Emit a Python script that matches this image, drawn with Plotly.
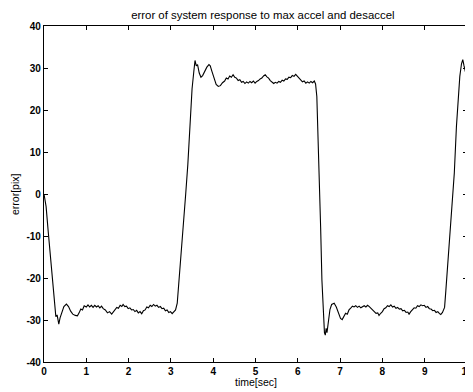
import plotly.graph_objects as go

time_sec = [
    0.00, 0.05, 0.10, 0.15, 0.20, 0.25, 0.28, 0.31, 0.35, 0.38, 0.42, 0.47, 0.53, 0.58, 0.63, 0.68,
    0.74, 0.79, 0.83, 0.87, 0.91, 0.95, 1.00, 1.04, 1.08, 1.12, 1.16, 1.20, 1.24, 1.28, 1.32, 1.36,
    1.40, 1.45, 1.50, 1.55, 1.60, 1.64, 1.68, 1.72, 1.76, 1.80, 1.84, 1.87, 1.91, 1.95, 1.99, 2.03,
    2.07, 2.11, 2.15, 2.19, 2.23, 2.27, 2.31, 2.35, 2.39, 2.43, 2.47, 2.51, 2.55, 2.59, 2.63, 2.67,
    2.71, 2.75, 2.79, 2.83, 2.87, 2.91, 2.95, 2.99, 3.03, 3.07, 3.11, 3.15, 3.20, 3.25, 3.30, 3.35,
    3.40, 3.45, 3.50, 3.54, 3.57, 3.60, 3.63, 3.67, 3.71, 3.75, 3.80, 3.85, 3.90, 3.93, 3.97, 4.02,
    4.07, 4.12, 4.17, 4.22, 4.27, 4.31, 4.35, 4.39, 4.43, 4.47, 4.51, 4.55, 4.59, 4.63, 4.67, 4.71,
    4.75, 4.79, 4.83, 4.87, 4.91, 4.95, 4.99, 5.03, 5.07, 5.11, 5.15, 5.19, 5.23, 5.27, 5.31, 5.35,
    5.39, 5.43, 5.47, 5.51, 5.55, 5.59, 5.63, 5.67, 5.71, 5.75, 5.79, 5.83, 5.87, 5.91, 5.95, 5.99,
    6.03, 6.07, 6.11, 6.15, 6.19, 6.23, 6.27, 6.31, 6.35, 6.39, 6.42, 6.45, 6.48, 6.51, 6.54, 6.57,
    6.60, 6.63, 6.65, 6.67, 6.69, 6.72, 6.76, 6.80, 6.86, 6.91, 6.96, 7.01, 7.05, 7.09, 7.13, 7.17,
    7.21, 7.25, 7.29, 7.33, 7.37, 7.41, 7.45, 7.49, 7.53, 7.57, 7.61, 7.65, 7.69, 7.73, 7.77, 7.81,
    7.85, 7.89, 7.92, 7.96, 8.00, 8.04, 8.08, 8.12, 8.16, 8.20, 8.24, 8.28, 8.32, 8.36, 8.40, 8.44,
    8.48, 8.52, 8.56, 8.60, 8.63, 8.67, 8.71, 8.75, 8.79, 8.83, 8.87, 8.91, 8.95, 8.99, 9.03, 9.07,
    9.11, 9.15, 9.19, 9.23, 9.27, 9.31, 9.35, 9.38, 9.42, 9.47, 9.50, 9.55, 9.60, 9.65, 9.70, 9.75,
    9.79, 9.83, 9.87, 9.90, 9.93, 9.96, 10.00,
]
error_pix = [
    0.0, -3.0, -9.0, -15.0, -21.0, -27.0, -29.2, -28.8, -31.0, -29.5, -28.0, -26.8, -26.2, -26.8, -27.9, -28.6,
    -28.9, -29.0, -28.3, -27.4, -27.6, -26.6, -26.9, -26.4, -26.9, -26.5, -27.0, -26.5, -26.9, -26.6, -27.1, -26.7,
    -27.3, -27.6, -28.3, -28.0, -28.6, -28.0, -27.6, -27.0, -27.2, -26.5, -26.8, -26.3, -26.8, -26.7, -27.3, -27.1,
    -27.6, -27.5, -28.0, -27.7, -28.3, -28.0, -28.5, -27.8, -27.6, -26.9, -27.1, -26.5, -26.8, -26.3, -26.7, -26.5,
    -27.0, -26.8, -27.3, -27.2, -27.8, -27.6, -28.2, -28.0, -28.5, -28.0, -27.6, -26.0, -20.0, -14.0, -7.0, 0.0,
    7.0, 17.0, 25.0, 29.0, 31.8, 30.5, 30.8, 28.8, 27.8, 28.2, 29.3, 30.2, 30.8, 30.5, 29.2, 27.5,
    26.1, 25.6, 25.8, 26.5, 26.9, 27.6, 27.4, 28.1, 27.8, 28.4, 27.8, 27.6, 27.0, 27.2, 26.6, 26.8,
    26.3, 26.7, 26.4, 26.8, 26.5, 26.9, 26.4, 26.8, 27.0, 27.4, 27.6, 28.1, 28.4, 27.9, 27.6, 27.0,
    26.7, 26.3, 26.6, 26.4, 26.8, 26.6, 27.1, 26.9, 27.4, 27.3, 27.8, 27.7, 28.2, 28.0, 28.5, 28.0,
    27.6, 27.1, 26.7, 26.9, 26.4, 26.7, 26.4, 26.8, 26.5, 26.9, 26.2, 23.2, 14.0, 4.0, -8.0, -20.5,
    -28.0, -33.0, -33.6, -32.0, -33.0, -30.0, -27.5, -26.3, -26.0, -26.9, -28.5, -29.6, -29.9, -29.2, -28.4, -28.6,
    -27.6, -27.2, -26.7, -26.9, -26.6, -27.0, -26.7, -27.1, -26.8, -26.6, -26.9, -26.5, -26.8, -27.2, -27.6, -27.9,
    -28.4, -28.3, -28.9, -28.4, -28.0, -27.3, -27.1, -26.6, -26.8, -26.4, -26.9, -26.7, -27.2, -27.0, -27.4, -27.3,
    -27.8, -27.7, -28.2, -28.1, -28.6, -28.0, -27.6, -27.1, -27.2, -26.6, -26.8, -26.4, -26.6, -26.5, -27.0, -26.8,
    -27.3, -27.4, -27.8, -27.7, -28.2, -28.0, -28.5, -28.7, -28.2, -27.0, -23.0, -16.0, -9.5, -3.0, 5.0, 16.0,
    23.0, 28.0, 31.0, 32.0, 30.5, 29.0, 27.5,
]

x_ticks = [0, 1, 2, 3, 4, 5, 6, 7, 8, 9, 10]
y_ticks = [-40, -30, -20, -10, 0, 10, 20, 30, 40]

title_text = "error of system response to max accel and desaccel"
x_title = "time[sec]"
y_title = "error[pix]"

font_family = "Liberation Sans, Arial, sans-serif"

# the page body keeps an 8px margin, so the figure is drawn 8px smaller
fig = go.Figure()
fig.add_trace(go.Scatter(
    x=time_sec, y=error_pix, mode="lines",
    line=dict(color="black", width=1.1),
    showlegend=False,
))

fig.update_layout(
    width=465, height=384,
    margin=dict(l=36, r=6, t=18, b=30, autoexpand=False),
    paper_bgcolor="white", plot_bgcolor="white",
    font=dict(family=font_family, color="black", size=10),
    title=dict(text=title_text, x=0.548, xanchor="center",
               y=1 - 7 / 384, yanchor="middle",
               font=dict(size=11.4, family=font_family, color="black")),
    annotations=[
        dict(text=x_title, xref="paper", yref="paper", x=0.5, y=0,
             xanchor="center", yanchor="middle", yshift=-20, showarrow=False,
             font=dict(size=10.5, family=font_family, color="black")),
        dict(text=y_title, xref="paper", yref="paper", x=0, y=0.5,
             xanchor="center", yanchor="middle", xshift=-29, textangle=-90,
             showarrow=False,
             font=dict(size=10.5, family=font_family, color="black")),
    ],
)
fig.update_xaxes(
    range=[0, 10], tickvals=x_ticks, ticktext=[str(v) for v in x_ticks],
    showgrid=False, zeroline=False, showline=True, linecolor="black", linewidth=1.2,
    mirror="ticks", ticks="inside", ticklen=4, tickcolor="black", automargin=False,
    ticklabeloverflow="allow",
    tickfont=dict(size=10, family=font_family, weight="bold"),
)
fig.update_yaxes(
    range=[-40, 40], tickvals=y_ticks, ticktext=[str(v) for v in y_ticks],
    showgrid=False, zeroline=False, showline=True, linecolor="black", linewidth=1.2,
    mirror="ticks", ticks="inside", ticklen=4, tickcolor="black", automargin=False,
    tickfont=dict(size=10, family=font_family, weight="bold"),
)

fig.write_html("out.html")
